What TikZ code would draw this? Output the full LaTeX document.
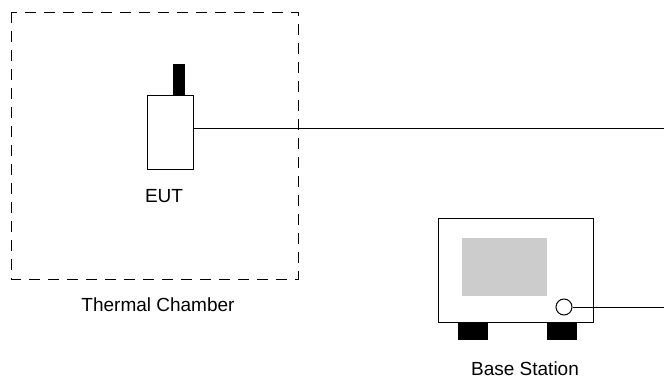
\documentclass[tikz,border=0pt]{standalone}
\usepackage{fontspec}
\setmainfont{Liberation Sans}
\tikzset{
  chamber/.style={draw, line width=1pt, dash pattern=on 11pt off 8pt},
  plainbox/.style={draw, line width=1pt, fill=white},
  blackpart/.style={fill=black},
  screen/.style={fill=black!20},
  cable/.style={draw, line width=1pt},
  lbl/.style={font=\fontsize{19}{22}\selectfont, anchor=base, inner sep=0pt}
}
\begin{document}
\begin{tikzpicture}[x=1pt,y=-1pt]
\useasboundingbox (0,0) rectangle (664,378);
% thermal chamber
\draw[chamber] (11,12) rectangle (298,279);
\node[lbl] (tclbl) at (158,311) {Thermal Chamber};
% EUT
\fill[blackpart] (173,64) rectangle (185,95);
\draw[plainbox] (147,95) rectangle (193,169);
\coordinate (eutport) at (193,128);
\coordinate (rightA) at (664,128);
\node[lbl] (eutlbl) at (164,202) {EUT};
\draw[cable] (eutport) -- (rightA);
% Base station
\fill[blackpart] (458,322) rectangle (488,340);
\fill[blackpart] (547,322) rectangle (577,340);
\draw[plainbox] (438,218) rectangle (593,322);
\fill[screen] (462,238) rectangle (547,296);
\node[draw, circle, line width=1pt, minimum size=16pt, inner sep=0pt] (port) at (564,307) {};
\coordinate (rightB) at (664,307);
\draw[cable] (port.east) -- (rightB);
\node[lbl] (bslbl) at (525,375) {Base Station};
\end{tikzpicture}
\end{document}
